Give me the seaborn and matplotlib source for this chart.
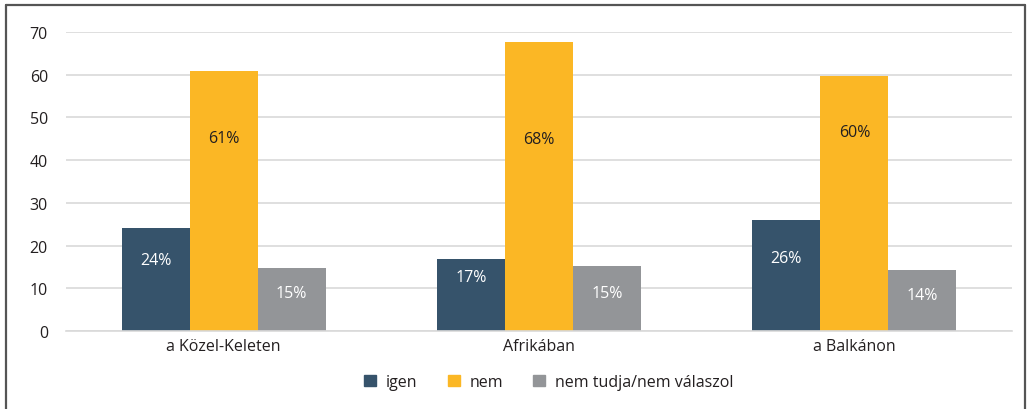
import matplotlib
matplotlib.use("Agg")
import matplotlib.pyplot as plt
import seaborn as sns
import pandas as pd
from matplotlib.lines import Line2D

categories = ["a Közel-Keleten", "Afrikában", "a Balkánon"]
series = ["igen", "nem", "nem tudja/nem válaszol"]
igen = [24.1, 16.9, 26.0]
nem = [60.9, 67.7, 59.6]
nem_tudja = [14.8, 15.2, 14.3]
labels_igen = ["24%", "17%", "26%"]
labels_nem = ["61%", "68%", "60%"]
labels_nt = ["15%", "15%", "14%"]
yticks = [0, 10, 20, 30, 40, 50, 60, 70]

# label anchor heights (data units) as placed in the reference
label_y_igen = [16.6, 12.7, 17.1]
label_y_nem = [45.2, 45.0, 46.6]
label_y_nt = [8.9, 9.0, 8.5]

colors = ["#36536B", "#FBB725", "#939598"]
text_col = "#231F20"
FS = 11.5

rows = []
for i, c in enumerate(categories):
    for s, vals in zip(series, [igen, nem, nem_tudja]):
        rows.append({"cat": c, "series": s, "value": vals[i]})
df = pd.DataFrame(rows)

sns.set_theme(style="white")
plt.rcParams["font.family"] = ["Open Sans", "DejaVu Sans"]

fig = plt.figure(figsize=(10.27, 4.10), dpi=100)
ax = fig.add_axes([66 / 1027, 1 - 332 / 410, (1012 - 66) / 1027, (332 - 33) / 410])

sns.barplot(data=df, x="cat", y="value", hue="series", order=categories,
            hue_order=series, palette=colors, width=0.647, saturation=1,
            ax=ax, legend=False, linewidth=0)

ax.set_ylim(0, 70)
ax.set_xlim(-0.5, 2.5)
ax.set_yticks(yticks)
ax.set_yticklabels([str(t) for t in yticks], fontsize=FS, color=text_col)
ax.tick_params(axis="x", labelsize=FS, colors=text_col, length=0, pad=5)
ax.tick_params(axis="y", length=0, pad=13)
ax.yaxis.grid(True, color="#D9D9D9", linewidth=1.2)
ax.set_axisbelow(True)
for sp in ["top", "right", "left"]:
    ax.spines[sp].set_visible(False)
ax.spines["bottom"].set_color("#D9D9D9")
ax.spines["bottom"].set_linewidth(1.2)
ax.set_xlabel("")
ax.set_ylabel("")

label_sets = [labels_igen, labels_nem, labels_nt]
label_ys = [label_y_igen, label_y_nem, label_y_nt]
label_colors = ["white", text_col, "white"]
for si, cont in enumerate(ax.containers):
    for ci, bar in enumerate(cont):
        ax.text(bar.get_x() + bar.get_width() / 2, label_ys[si][ci], label_sets[si][ci],
                ha="center", va="center", fontsize=FS, color=label_colors[si])

handles = [plt.Rectangle((0, 0), 1, 1, color=c) for c in colors]
fig.legend(handles, series, loc="center", bbox_to_anchor=(0.5345, 1 - 383 / 410),
           ncol=3, frameon=False, fontsize=FS, handlelength=0.75, handleheight=0.75,
           columnspacing=1.9, handletextpad=0.6, labelcolor=text_col)

fc = "#555555"
fig.add_artist(Line2D([5.5 / 1027, 5.5 / 1027], [0, 1 - 5.5 / 410], color=fc, lw=1.6, transform=fig.transFigure))
fig.add_artist(Line2D([5.5 / 1027, 1024.5 / 1027], [1 - 5.5 / 410, 1 - 5.5 / 410], color=fc, lw=1.6, transform=fig.transFigure))
fig.add_artist(Line2D([1024.5 / 1027, 1024.5 / 1027], [0, 1 - 5.5 / 410], color=fc, lw=1.6, transform=fig.transFigure))

fig.savefig("out.png", dpi=100)
